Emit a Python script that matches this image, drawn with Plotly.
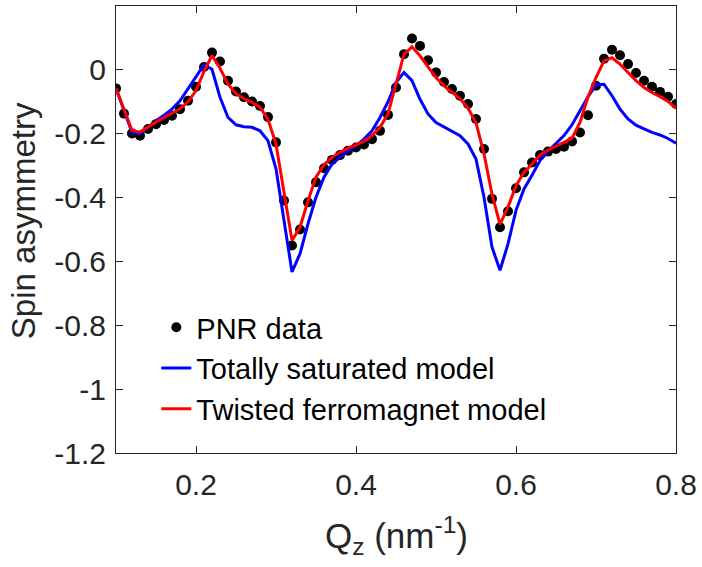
import numpy as np
import plotly.graph_objects as go

# Momentum transfer grid (nm^-1)
qz = [round(0.10 + 0.01 * i, 2) for i in range(71)]

# Measured spin asymmetry (PNR)
pnr_data = [
    -0.058, -0.137, -0.199, -0.206, -0.185, -0.170, -0.157, -0.144, -0.123, -0.097,
    -0.053, 0.009, 0.054, 0.026, -0.034, -0.068, -0.086, -0.099, -0.113, -0.148,
    -0.227, -0.409, -0.550, -0.500, -0.415, -0.352, -0.308, -0.282, -0.267, -0.253,
    -0.243, -0.234, -0.217, -0.191, -0.141, -0.055, 0.049, 0.098, 0.075, 0.030,
    -0.008, -0.038, -0.060, -0.081, -0.107, -0.154, -0.248, -0.404, -0.493, -0.443,
    -0.371, -0.321, -0.290, -0.267, -0.256, -0.248, -0.241, -0.224, -0.196, -0.142,
    -0.050, 0.035, 0.063, 0.046, 0.018, -0.010, -0.034, -0.053, -0.069, -0.084,
    -0.107,
]

# Totally saturated model
saturated_model = [
    -0.058, -0.130, -0.196, -0.200, -0.178, -0.159, -0.142, -0.123, -0.097, -0.060,
    -0.024, 0.016, 0.002, -0.086, -0.149, -0.172, -0.178, -0.180, -0.191, -0.222,
    -0.310, -0.472, -0.633, -0.576, -0.482, -0.399, -0.336, -0.295, -0.274, -0.253,
    -0.238, -0.217, -0.191, -0.149, -0.100, -0.040, -0.008, -0.034, -0.092, -0.138,
    -0.165, -0.178, -0.191, -0.206, -0.232, -0.279, -0.399, -0.555, -0.628, -0.545,
    -0.440, -0.373, -0.330, -0.284, -0.255, -0.230, -0.206, -0.172, -0.128, -0.084,
    -0.047, -0.045, -0.081, -0.123, -0.154, -0.173, -0.185, -0.196, -0.204, -0.215,
    -0.230,
]

# Twisted ferromagnet model
twisted_model = [
    -0.058, -0.125, -0.190, -0.195, -0.178, -0.163, -0.150, -0.137, -0.122, -0.100,
    -0.065, -0.005, 0.045, 0.005, -0.045, -0.075, -0.090, -0.102, -0.117, -0.155,
    -0.232, -0.383, -0.534, -0.493, -0.410, -0.336, -0.297, -0.274, -0.258, -0.245,
    -0.234, -0.224, -0.206, -0.180, -0.138, -0.040, 0.049, 0.072, 0.044, 0.009,
    -0.024, -0.050, -0.071, -0.090, -0.120, -0.165, -0.263, -0.389, -0.484, -0.430,
    -0.363, -0.321, -0.295, -0.267, -0.251, -0.240, -0.227, -0.214, -0.165, -0.085,
    -0.024, 0.028, 0.038, 0.018, -0.008, -0.034, -0.055, -0.071, -0.084, -0.099,
    -0.120,
]

x_ticks = [0.2, 0.4, 0.6, 0.8]
y_ticks = [-1.2, -1.0, -0.8, -0.6, -0.4, -0.2, 0.0]
y_tick_text = ["-1.2", "-1", "-0.8", "-0.6", "-0.4", "-0.2", "0"]

FONT = "Liberation Sans, Arial, sans-serif"
AXIS_COLOR = "#262626"

fig = go.Figure()
fig.add_trace(go.Scatter(
    x=qz, y=pnr_data, mode="markers", name="PNR data",
    marker=dict(color="black", size=10, symbol="circle"),
))
fig.add_trace(go.Scatter(
    x=qz, y=saturated_model, mode="lines", name="Totally saturated model",
    line=dict(color="#0000ff", width=3),
))
fig.add_trace(go.Scatter(
    x=qz, y=twisted_model, mode="lines", name="Twisted ferromagnet model",
    line=dict(color="#ff0000", width=3),
))

axis_common = dict(
    showline=True, linecolor=AXIS_COLOR, linewidth=1, mirror="ticks",
    ticks="inside", ticklen=7, tickcolor=AXIS_COLOR, tickwidth=1,
    showgrid=False, zeroline=False,
    tickfont=dict(family=FONT, size=30, color=AXIS_COLOR),
)

fig.update_xaxes(range=[0.1, 0.8], tickvals=x_ticks,
                 ticktext=[f"{v:.1f}" for v in x_ticks],
                 ticklabelstandoff=5, **axis_common)
fig.update_yaxes(range=[-1.2, 0.2], tickvals=y_ticks, ticktext=y_tick_text,
                 ticklabelstandoff=3, **axis_common)

fig.update_layout(
    width=702, height=567,
    margin=dict(l=116, r=24, t=5, b=114),
    paper_bgcolor="white", plot_bgcolor="white",
    showlegend=True,
    legend=dict(
        x=0.072, y=0.338, xanchor="left", yanchor="top",
        bgcolor="rgba(255,255,255,0)", borderwidth=0,
        font=dict(family=FONT, size=29, color="black"),
        itemwidth=30, tracegroupgap=0,
    ),
    annotations=[
        dict(text="Spin asymmetry", textangle=-90, showarrow=False,
             xref="paper", yref="paper", x=-0.165, y=0.52,
             xanchor="center", yanchor="middle",
             font=dict(family=FONT, size=33, color=AXIS_COLOR)),
        dict(text="Q<sub>z</sub> (nm<sup>-1</sup>)", showarrow=False,
             xref="paper", yref="paper", x=0.5, y=-0.185,
             xanchor="center", yanchor="middle",
             font=dict(family=FONT, size=35, color=AXIS_COLOR)),
    ],
)

fig.write_html("out.html")
